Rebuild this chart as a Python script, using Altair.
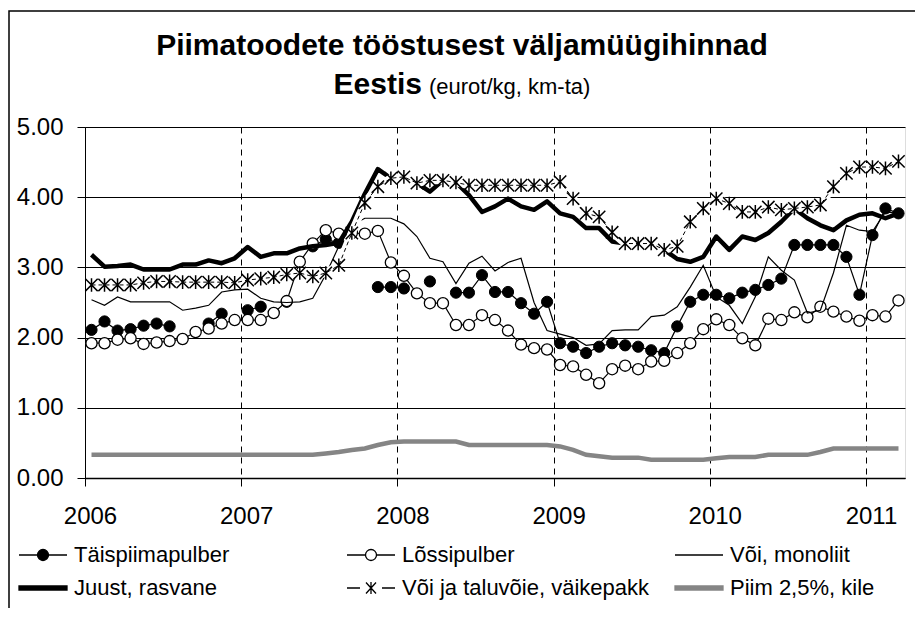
import altair as alt
import pandas as pd

# ---------------- data ----------------
years = [2006, 2007, 2008, 2009, 2010, 2011]
months = [f"{y}-{m:02d}" for y in range(2006, 2012) for m in range(1, 13)][:63]

names = ["Täispiimapulber", "Lõssipulber", "Või, monoliit",
         "Juust, rasvane", "Või ja taluvõie, väikepakk", "Piim 2,5%, kile"]
keys = ["tp", "lp", "vm", "ju", "vt", "pi"]

taispiim = [2.11, 2.23, 2.10, 2.12, 2.17, 2.20, 2.16, None, None, 2.20,
            2.34, None, 2.39, 2.44, None, 2.51, None, 3.30, 3.40, 3.35,
            None, None, 2.72, 2.72, 2.70, None, 2.80, None, 2.64, 2.64,
            2.89, 2.65, 2.65, 2.49, 2.34, 2.51, 1.92, 1.87, 1.78, 1.87,
            1.92, 1.89, 1.87, 1.82, 1.78, 2.16, 2.51, 2.61, 2.61, 2.56,
            2.64, 2.68, 2.75, 2.84, 3.32, 3.32, 3.32, 3.32, 3.15, 2.61,
            3.46, 3.84, 3.77]
lossi = [1.92, 1.92, 1.97, 1.99, 1.91, 1.93, 1.95, 1.98, 2.08, 2.13,
         2.20, 2.25, 2.25, 2.25, 2.35, 2.52, 3.08, 3.34, 3.53, 3.48,
         3.49, 3.48, 3.52, 3.07, 2.88, 2.63, 2.49, 2.49, 2.18, 2.18,
         2.32, 2.25, 2.10, 1.90, 1.85, 1.83, 1.61, 1.59, 1.47, 1.35,
         1.55, 1.60, 1.55, 1.66, 1.67, 1.78, 1.92, 2.12, 2.26, 2.18,
         1.99, 1.89, 2.27, 2.25, 2.36, 2.29, 2.44, 2.37, 2.30, 2.24,
         2.32, 2.30, 2.53]
monoliit = [2.54, 2.46, 2.58, 2.51, 2.51, 2.51, 2.51, 2.39, 2.42, 2.46,
            2.65, 2.68, 2.69, 2.56, 2.51, 2.50, 2.51, 2.56, 2.90, 3.30,
            3.60, 3.70, 3.70, 3.70, 3.62, 3.44, 3.13, 3.08, 2.77, 3.06,
            3.16, 2.95, 3.07, 3.13, 2.50, 2.10, 2.05, 2.00, 1.89, 1.91,
            2.10, 2.11, 2.11, 2.30, 2.32, 2.44, 2.72, 3.03, 2.58, 2.46,
            2.20, 2.58, 3.15, 2.96, 2.82, 2.35, 2.39, 2.92, 3.60, 3.53,
            3.51, 3.79, 3.77]
juust = [3.18, 3.01, 3.02, 3.04, 2.97, 2.97, 2.97, 3.04, 3.04, 3.10,
         3.06, 3.13, 3.29, 3.15, 3.20, 3.20, 3.27, 3.30, 3.32, 3.35,
         3.65, 4.05, 4.40, 4.27, 4.29, 4.20, 4.08, 4.24, 4.21, 4.03,
         3.79, 3.87, 3.98, 3.87, 3.82, 3.94, 3.77, 3.72, 3.56, 3.56,
         3.37, 3.34, 3.34, 3.34, 3.25, 3.12, 3.08, 3.15, 3.44, 3.25,
         3.44, 3.39, 3.49, 3.65, 3.84, 3.70, 3.60, 3.53, 3.67, 3.75,
         3.77, 3.70, 3.77]
taluvoi = [2.75, 2.75, 2.75, 2.75, 2.78, 2.80, 2.80, 2.79, 2.79, 2.79,
           2.79, 2.78, 2.82, 2.84, 2.86, 2.90, 2.92, 2.87, 2.92, 3.03,
           3.49, 3.92, 4.15, 4.27, 4.29, 4.20, 4.24, 4.24, 4.21, 4.17,
           4.17, 4.17, 4.17, 4.17, 4.17, 4.17, 4.22, 3.98, 3.77, 3.72,
           3.50, 3.34, 3.34, 3.34, 3.25, 3.30, 3.65, 3.84, 3.98, 3.91,
           3.79, 3.79, 3.86, 3.82, 3.84, 3.86, 3.89, 4.15, 4.34, 4.43,
           4.43, 4.41, 4.51]
piim = [0.33, 0.33, 0.33, 0.33, 0.33, 0.33, 0.33, 0.33, 0.33, 0.33,
        0.33, 0.33, 0.33, 0.33, 0.33, 0.33, 0.33, 0.33, 0.35, 0.37,
        0.40, 0.42, 0.47, 0.51, 0.52, 0.52, 0.52, 0.52, 0.52, 0.47,
        0.47, 0.47, 0.47, 0.47, 0.47, 0.47, 0.45, 0.40, 0.33, 0.31,
        0.29, 0.29, 0.29, 0.26, 0.26, 0.26, 0.26, 0.26, 0.28, 0.30,
        0.30, 0.30, 0.33, 0.33, 0.33, 0.33, 0.37, 0.42, 0.42, 0.42,
        0.42, 0.42, 0.42]

series = dict(zip(keys, [taispiim, lossi, monoliit, juust, taluvoi, piim]))

rows = []
for k, vals in series.items():
    seg = 0
    prev_none = True
    for mo, v in zip(months, vals):
        if v is None:
            prev_none = True
            continue
        if prev_none:
            seg += 1
        prev_none = False
        y, m = int(mo[:4]), int(mo[5:])
        rows.append({"k": k, "seg": f"{k}{seg}", "x": y + (m - 0.5) / 12, "v": v})
df = pd.DataFrame(rows)

FONT = "Liberation Sans"

X = alt.X("x:Q",
          scale=alt.Scale(domain=[2006, 2011.25], nice=False, zero=False),
          axis=alt.Axis(values=years, format="d", title=None, grid=True,
                        gridDash=[6, 5], gridColor="#000", gridWidth=1,
                        tickSize=8, tickColor="#000", domainColor="#000",
                        domainWidth=1.5, labelPadding=18, labelOffset=5,
                        labelFlush=False, labelFontSize=24,
                        labelFont=FONT, labelColor="#000"))
Y = alt.Y("v:Q",
          scale=alt.Scale(domain=[0, 5], nice=False),
          axis=alt.Axis(values=[0, 1, 2, 3, 4, 5], format=".2f", title=None,
                        grid=True, gridColor="#000", gridWidth=1,
                        tickSize=8, tickColor="#000", domainColor="#000",
                        labelPadding=14, labelFontSize=24, labelFont=FONT,
                        labelColor="#000"))

base = alt.Chart(df)


def sel(k):
    return base.transform_filter(alt.datum.k == k)


def line(k, **kw):
    return sel(k).mark_line(**kw).encode(x=X, y=Y, detail="seg:N")


tp_line = line("tp", color="black", strokeWidth=1.2)
tp_pts = sel("tp").mark_point(shape="circle", size=125, filled=True, fill="black",
                              stroke="black", strokeWidth=1, opacity=1).encode(x=X, y=Y)
lp_line = line("lp", color="black", strokeWidth=1.2)
lp_pts = sel("lp").mark_point(shape="circle", size=125, filled=True, fill="white",
                              stroke="black", strokeWidth=1.3, opacity=1).encode(x=X, y=Y)
vm_line = line("vm", color="black", strokeWidth=1.2)
ju_line = line("ju", color="black", strokeWidth=4.5, strokeJoin="round")
vt_halo = line("vt", color="white", strokeWidth=8)
vt_line = line("vt", color="black", strokeWidth=1, strokeDash=[4, 3])
ASTER = "M-0.95,-0.95L0.95,0.95M-0.95,0.95L0.95,-0.95M0,-1.05L0,1.05"
vt_pts = sel("vt").mark_point(shape=ASTER, size=169, filled=False, stroke="black",
                              strokeWidth=1.5, opacity=1).encode(x=X, y=Y)
pi_line = line("pi", color="#858585", strokeWidth=4.5)

# legend (symbols drawn by Vega's legend); entries fill column by column
P_FILL = "M-2.4,0L-0.55,0M0.55,0L2.4,0M0.55,0A0.55,0.55,0,1,1,-0.55,0A0.55,0.55,0,1,1,0.55,0Z"
P_LINE = "M-2.4,0L2.4,0"
P_BAR = "M-2.4,-0.2L2.4,-0.2L2.4,0.2L-2.4,0.2Z"
P_AST = ("M-2.4,0L-1.1,0M1.1,0L2.4,0M-0.5,-0.55L0.5,0.55M-0.5,0.55L0.5,-0.55"
         "M0,-0.6L0,0.6")
sym = {
    "Täispiimapulber": (P_FILL, "black", "black"),
    "Lõssipulber": (P_FILL, "white", "black"),
    "Või, monoliit": (P_LINE, "transparent", "black"),
    "Juust, rasvane": (P_BAR, "black", "black"),
    "Või ja taluvõie, väikepakk": (P_AST, "transparent", "black"),
    "Piim 2,5%, kile": (P_BAR, "#858585", "#858585"),
}
leg_order = [names[0], names[3], names[1], names[4], names[2], names[5]]
paths = [sym[n][0] for n in leg_order]
fills = [sym[n][1] for n in leg_order]
strokes = [sym[n][2] for n in leg_order]

leg = alt.Legend(title=None, orient="none", legendX=-53, legendY=417, columns=3,
                 gridAlign="all", columnPadding=22, rowPadding=11,
                 symbolSize=400, symbolStrokeWidth=1.3, labelOffset=20,
                 labelFontSize=22, labelFont=FONT, labelColor="#000",
                 labelLimit=400, symbolOpacity=1)
legend_layer = alt.Chart(pd.DataFrame({"name": names})).transform_filter("false").mark_point(
    filled=True, opacity=1).encode(
    shape=alt.Shape("name:N", scale=alt.Scale(domain=leg_order, range=paths), legend=leg),
    fill=alt.Fill("name:N", scale=alt.Scale(domain=leg_order, range=fills), legend=leg),
    stroke=alt.Stroke("name:N", scale=alt.Scale(domain=leg_order, range=strokes), legend=leg),
)

# titles
t1 = alt.Chart(pd.DataFrame({"t": ["Piimatoodete tööstusest väljamüügihinnad"]})).mark_text(
    font=FONT, fontSize=30, fontWeight="bold", align="center", baseline="alphabetic",
    color="black").encode(x=alt.value(377), y=alt.value(-72), text="t:N")
t2 = alt.Chart(pd.DataFrame({"t": ["Eestis"]})).mark_text(
    font=FONT, fontSize=30, fontWeight="bold", align="right", baseline="alphabetic",
    color="black").encode(x=alt.value(337), y=alt.value(-33), text="t:N")
t3 = alt.Chart(pd.DataFrame({"t": ["(eurot/kg, km-ta)"]})).mark_text(
    font=FONT, fontSize=22, align="left", baseline="alphabetic",
    color="black").encode(x=alt.value(344), y=alt.value(-33), text="t:N")

frame = alt.Chart(pd.DataFrame({"a": [0]})).mark_rect(
    fill="transparent", stroke="black", strokeWidth=1.5).encode(
    x=alt.value(-76), x2=alt.value(850), y=alt.value(-116), y2=alt.value(640))

chart = alt.layer(
    frame, t1, t2, t3,
    tp_line, tp_pts, lp_line, lp_pts, vm_line, ju_line,
    vt_halo, vt_line, vt_pts, pi_line, legend_layer
).properties(
    width=820, height=351,
    padding={"left": 77, "top": 119, "right": 10, "bottom": 130},
    autosize=alt.AutoSizeParams(type="none"),
).configure_view(stroke="black", strokeWidth=1).configure(font=FONT)

chart.save("out.html", embed_options={"renderer": "svg", "actions": False})
